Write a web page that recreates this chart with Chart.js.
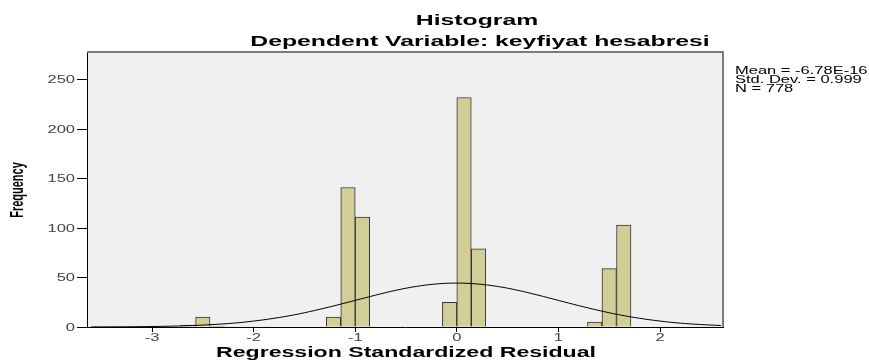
<!DOCTYPE html>
<html>
<head>
<meta charset="utf-8">
<script src="https://cdn.jsdelivr.net/npm/chart.js@4/dist/chart.umd.min.js"></script>
<style>
  body { margin: 0; background: #fff; }
  canvas { display: block; }
</style>
</head>
<body>
<canvas id="histChart" width="869" height="361"></canvas>
<script>
// histogram bins (width 1/7)
const binCenters = [-2.643, -2.5, -2.357, -1.214, -1.071, -0.929, -0.071, 0.071, 0.214, 1.357, 1.5, 1.643];
const frequencies = [2, 10, 1, 10, 141, 111, 25, 232, 79, 5, 59, 103];

// normal curve as drawn over the bars
const curveX = [-3.6, -3.4, -3.2, -3.0, -2.8, -2.6, -2.4, -2.2, -2.0, -1.8, -1.6, -1.4, -1.2, -1.0, -0.8, -0.6,
                -0.4, -0.2, 0, 0.2, 0.4, 0.6, 0.8, 1.0, 1.2, 1.4, 1.6, 1.8, 2.0, 2.2, 2.4, 2.6];
const curveY = [0.07, 0.14, 0.27, 0.5, 0.9, 1.5, 2.5, 3.9, 6.0, 8.8, 12.3, 16.7, 21.6, 26.9, 32.2, 37.1,
                41.0, 43.5, 44.4, 43.5, 41.0, 37.1, 32.2, 26.9, 21.6, 16.7, 12.3, 8.8, 6.0, 3.9, 2.5, 1.5];

const chartTitle = 'Histogram';
const chartSubtitle = 'Dependent Variable: keyfiyat hesabresi';
const xTitle = 'Regression Standardized Residual';
const yTitle = 'Frequency';
const statsLines = ['Mean = -6.78E-16', 'Std. Dev. = 0.999', 'N = 778'];

const SX = 1.65; // the SPSS export is stretched sideways
const FONT = '"Liberation Sans", Arial, sans-serif';

function wideText(ctx, text, x, y, font, align, color) {
    ctx.save();
    ctx.font = font;
    ctx.fillStyle = color || '#000';
    ctx.textAlign = align;
    ctx.translate(x, y);
    ctx.scale(SX, 1);
    ctx.fillText(text, 0, 0);
    ctx.restore();
}

const spssLook = {
    id: 'spssLook',
    beforeDraw(chart) {
        const {ctx, chartArea: a} = chart;
        ctx.save();
        ctx.fillStyle = '#f0f0f0';
        ctx.fillRect(a.left, a.top, a.right - a.left, a.bottom - a.top);
        ctx.restore();
    },
    afterDraw(chart) {
        const {ctx, chartArea: a, scales} = chart;
        // frame: grey top/right
        ctx.save();
        ctx.strokeStyle = '#7a7a7a';
        ctx.lineWidth = 2;
        ctx.beginPath();
        ctx.moveTo(a.left, a.top);
        ctx.lineTo(a.right, a.top);
        ctx.lineTo(a.right, a.bottom);
        ctx.stroke();
        ctx.restore();

        // tick labels
        ctx.textBaseline = 'middle';
        scales.y.ticks.forEach((t, i) => {
            wideText(ctx, String(t.value), 75, scales.y.getPixelForTick(i) + 1, '10px ' + FONT, 'right', '#444');
        });
        scales.x.ticks.forEach((t, i) => {
            wideText(ctx, String(t.value), scales.x.getPixelForTick(i), 338, '10px ' + FONT, 'center', '#444');
        });

        // titles
        ctx.textBaseline = 'alphabetic';
        wideText(ctx, chartTitle, 477, 25, 'bold 15px ' + FONT, 'center');
        wideText(ctx, chartSubtitle, 480, 46, 'bold 15px ' + FONT, 'center');
        wideText(ctx, xTitle, 406, 357, 'bold 14px ' + FONT, 'center');

        statsLines.forEach((s, i) => {
            wideText(ctx, s, 735, 74 + i * 9, '10px ' + FONT, 'left', '#000');
        });

        // rotated y title, thickened sideways
        ctx.save();
        ctx.translate(18, 190);
        ctx.rotate(-Math.PI / 2);
        ctx.scale(1, SX);
        ctx.font = 'bold 11px ' + FONT;
        ctx.textAlign = 'center';
        ctx.textBaseline = 'middle';
        ctx.fillStyle = '#000';
        ctx.fillText(yTitle, 0, 0);
        ctx.restore();
    }
};

const ctx = document.getElementById('histChart').getContext('2d');
new Chart(ctx, {
    type: 'bar',
    data: {
        datasets: [{
            type: 'line',
            data: curveX.map((x, i) => ({x: x, y: curveY[i]})),
            borderColor: '#000',
            borderWidth: 1,
            pointRadius: 0,
            tension: 0.4,
            fill: false,
            order: 0
        }, {
            type: 'bar',
            data: binCenters.map((x, i) => ({x: x, y: frequencies[i]})),
            backgroundColor: '#d3cd97',
            borderColor: '#333',
            borderWidth: 1,
            barPercentage: 1,
            categoryPercentage: 1,
            order: 1
        }]
    },
    options: {
        responsive: false,
        animation: false,
        layout: { padding: { top: 52, right: 146, bottom: 0, left: 0 } },
        plugins: {
            legend: { display: false },
            tooltip: { enabled: false }
        },
        scales: {
            x: {
                type: 'linear',
                min: -3.64,
                max: 2.62,
                offset: false,
                ticks: { display: false, stepSize: 1, includeBounds: false },
                grid: { offset: false, drawOnChartArea: false, tickLength: 5, color: '#000' },
                border: { color: '#000' },
                afterFit(s) { s.height = 34; }
            },
            y: {
                min: 0,
                max: 278,
                ticks: { display: false, stepSize: 50, includeBounds: false },
                grid: { drawOnChartArea: false, tickLength: 10, color: '#000' },
                border: { color: '#000' },
                afterFit(s) { s.width = 87; }
            }
        }
    },
    plugins: [spssLook]
});
</script>
</body>
</html>
